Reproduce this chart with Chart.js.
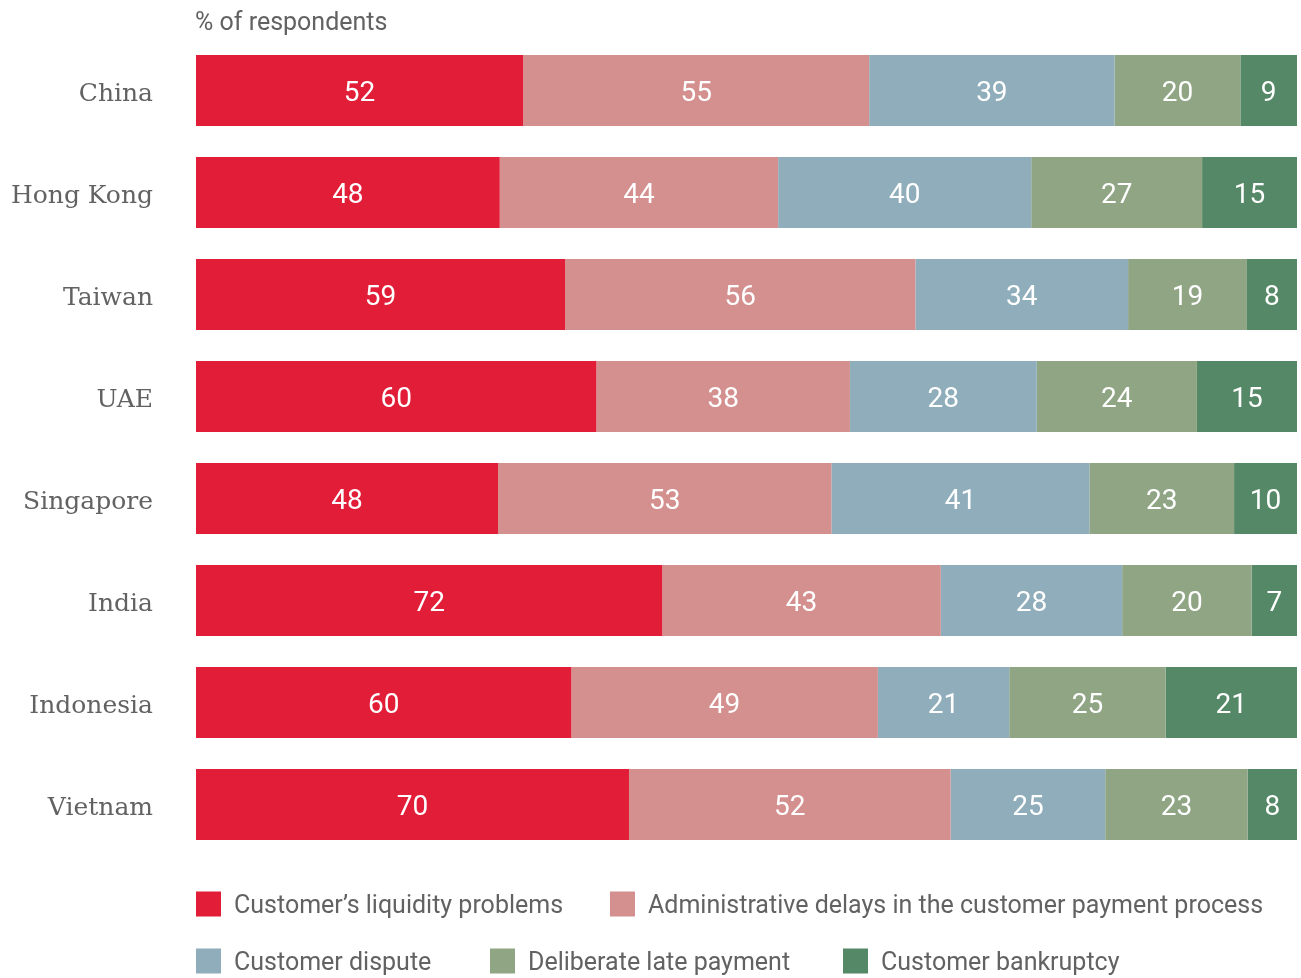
<!DOCTYPE html>
<html>
<head>
<meta charset="utf-8">
<script src="https://cdn.jsdelivr.net/npm/chart.js@4/dist/chart.umd.min.js"></script>
<style>
  html, body { margin: 0; padding: 0; background: #ffffff; }
  #wrap { position: relative; width: 1301px; height: 978px; }
</style>
</head>
<body>
<div id="wrap"><canvas id="chart" width="1301" height="978"></canvas></div>
<script>
// Reasons for late payment, by market (% of respondents)
const categories = ['China', 'Hong Kong', 'Taiwan', 'UAE', 'Singapore', 'India', 'Indonesia', 'Vietnam'];
const liquidity  = [52, 48, 59, 60, 48, 72, 60, 70];
const adminDelay = [55, 44, 56, 38, 53, 43, 49, 52];
const dispute    = [39, 40, 34, 28, 41, 28, 21, 25];
const deliberate = [20, 27, 19, 24, 23, 20, 25, 23];
const bankruptcy = [9, 15, 8, 15, 10, 7, 21, 8];

const seriesNames = [
  'Customer\u2019s liquidity problems',
  'Administrative delays in the customer payment process',
  'Customer dispute',
  'Deliberate late payment',
  'Customer bankruptcy'
];
const seriesColors = ['#e21d38', '#d4908e', '#8fadba', '#8fa584', '#548866'];
const seriesValues = [liquidity, adminDelay, dispute, deliberate, bankruptcy];

// Each bar is scaled so that its segments fill the full row
const rowTotals = categories.map((_, i) => seriesValues.reduce((s, arr) => s + arr[i], 0));

const datasets = seriesValues.map((vals, k) => ({
  label: seriesNames[k],
  data: vals.map((v, i) => v / rowTotals[i] * 100),
  raw: vals,
  backgroundColor: seriesColors[k],
  borderWidth: 0,
  categoryPercentage: 1,
  barPercentage: 0.696
}));

const TEXT_GREY = '#626262';
const SANS = 'Roboto, "Open Sans", sans-serif';

// White value labels centred in each segment
const valueLabels = {
  id: 'valueLabels',
  afterDatasetsDraw(chart) {
    const ctx = chart.ctx;
    ctx.save();
    ctx.fillStyle = '#ffffff';
    ctx.font = '28px ' + SANS;
    ctx.textAlign = 'center';
    ctx.textBaseline = 'middle';
    chart.data.datasets.forEach((ds, di) => {
      const meta = chart.getDatasetMeta(di);
      meta.data.forEach((bar, i) => {
        const cx = (bar.x + bar.base) / 2;
        ctx.fillText(String(ds.raw[i]), cx, bar.y + 3);
      });
    });
    ctx.restore();
  }
};

// Unit note above the bars and the legend below them
const frame = {
  id: 'frame',
  afterDraw(chart, args, opts) {
    const ctx = chart.ctx;
    ctx.save();
    ctx.fillStyle = TEXT_GREY;
    ctx.font = '25px ' + SANS;
    ctx.textAlign = 'left';
    ctx.textBaseline = 'middle';
    ctx.fillText('% of respondents', opts.noteX, opts.noteY);

    ctx.font = '25px ' + SANS;
    opts.legendSlots.forEach((slot, k) => {
      ctx.fillStyle = seriesColors[k];
      ctx.fillRect(slot.x, slot.y - opts.box / 2, opts.box, opts.box);
      ctx.fillStyle = TEXT_GREY;
      ctx.fillText(seriesNames[k], slot.x + opts.textGap, slot.y + 3);
    });
    ctx.restore();
  }
};

new Chart(document.getElementById('chart'), {
  type: 'bar',
  data: { labels: categories, datasets },
  options: {
    indexAxis: 'y',
    responsive: false,
    animation: false,
    layout: { padding: { top: 39.5, bottom: 122.5, right: 4, left: 0 } },
    plugins: {
      legend: { display: false },
      tooltip: { enabled: false },
      frame: {
        noteX: 195, noteY: 24,
        box: 25, textGap: 38,
        legendSlots: [
          { x: 196, y: 904 },
          { x: 610, y: 904 },
          { x: 196, y: 961 },
          { x: 490, y: 961 },
          { x: 843, y: 961 }
        ]
      }
    },
    scales: {
      x: {
        stacked: true,
        min: 0,
        max: 100,
        display: false
      },
      y: {
        stacked: true,
        border: { display: false },
        grid: { display: false, drawTicks: false },
        ticks: {
          color: TEXT_GREY,
          padding: 43,
          labelOffset: 4,
          font: { family: '"DejaVu Serif", serif', size: 25 }
        },
        afterFit(scale) {
          scale.width = 196;
          // label padding should not shrink the plot vertically
          scale.paddingTop = 0;
          scale.paddingBottom = 0;
        }
      }
    }
  },
  plugins: [valueLabels, frame]
});
</script>
</body>
</html>
